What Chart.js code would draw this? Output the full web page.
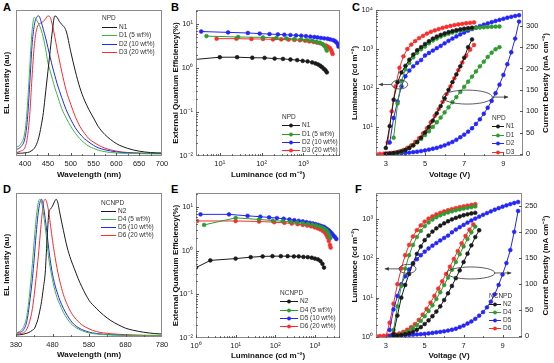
<!DOCTYPE html>
<html><head><meta charset="utf-8">
<script src="https://cdn.jsdelivr.net/npm/chart.js@4/dist/chart.umd.min.js"></script>
<style>
html,body{margin:0;padding:0;background:#fff;}
body{width:554px;height:363px;position:relative;overflow:hidden;font-family:"Liberation Sans",Arial,sans-serif;}
canvas{position:absolute;}
.lbl{position:absolute;font:bold 11px "Liberation Sans",Arial,sans-serif;color:#000;line-height:11px;}
</style></head><body>
<div class="lbl" style="left:3px;top:2px">A</div>
<div class="lbl" style="left:171px;top:2px">B</div>
<div class="lbl" style="left:352px;top:2px">C</div>
<div class="lbl" style="left:3px;top:184px">D</div>
<div class="lbl" style="left:171px;top:184px">E</div>
<div class="lbl" style="left:355px;top:184px">F</div>
<canvas id="cA" width="170" height="180" style="left:0;top:0"></canvas>
<canvas id="cB" width="182" height="180" style="left:168px;top:0"></canvas>
<canvas id="cC" width="206" height="180" style="left:348px;top:0"></canvas>
<canvas id="cD" width="170" height="180" style="left:0;top:180px"></canvas>
<canvas id="cE" width="182" height="181" style="left:168px;top:180px"></canvas>
<canvas id="cF" width="206" height="181" style="left:348px;top:180px"></canvas>
<script>
// ---------- DATA ----------
const hostA = 'NPD', hostD = 'NCNPD';
const namesA = ['N1','D1 (5 wt%)','D2 (10 wt%)','D3 (20 wt%)'];
const namesD = ['N2','D4 (5 wt%)','D5 (10 wt%)','D6 (20 wt%)'];
const namesC = ['N1','D1','D2','D3'];
const namesF = ['N2','D4','D5','D6'];

const ticksA = [400,450,500,550,600,650,700];
const ticksD = [380,480,580,680,780];
const ticksV = [3,5,7,9];
const ticksJC = [0,50,100,150,200,250,300];
const ticksJF = [0,50,100,150,200,250];

// Panel A: EL spectra (NPD host)
const wavelengthA = [380,390,400,405,410,415,420,425,430,435,440,445,450,455,460,465,470,475,480,490,500,510,520,530,540,550,560,575,600,625,650,675,700];
const elN1 = [.005,.005,.008,.01,.015,.025,.04,.07,.12,.2,.3,.45,.6,.75,.9,1.0,.99,.96,.94,.89,.74,.6,.48,.39,.32,.26,.2,.14,.075,.04,.02,.01,.007];
const elD1 = [.05,.07,.17,.35,.62,.88,.99,.97,.94,.9,.84,.76,.66,.6,.54,.48,.43,.38,.33,.26,.2,.15,.11,.08,.055,.04,.028,.016,.007,.004,.002,.001,.001];
const elD2 = [.03,.05,.12,.25,.5,.78,.93,.99,1.0,.96,.9,.84,.77,.7,.63,.57,.51,.46,.41,.32,.25,.19,.145,.11,.085,.062,.045,.03,.015,.008,.005,.003,.002];
const elD3 = [.01,.02,.05,.12,.28,.55,.78,.9,.94,.95,.96,.98,1.0,.99,.93,.85,.76,.68,.6,.46,.36,.27,.2,.15,.11,.085,.065,.042,.02,.01,.006,.004,.003];

// Panel D: EL spectra (NCNPD host)
const wavelengthD = [380,390,400,410,420,425,430,435,440,445,450,455,460,465,470,475,480,485,490,495,500,510,520,530,540,550,560,580,600,620,640,660,680,700,730,760,780];
const elN2 = [.005,.006,.01,.018,.03,.04,.05,.08,.12,.18,.25,.35,.46,.7,.9,.93,.95,.98,1.0,.97,.9,.77,.65,.56,.49,.42,.36,.26,.2,.15,.11,.08,.055,.04,.025,.015,.012];
const elD4 = [.02,.03,.06,.15,.38,.53,.7,.85,.96,1.0,.98,.9,.8,.68,.56,.48,.41,.35,.3,.26,.23,.17,.125,.09,.067,.05,.037,.02,.012,.008,.005,.003,.002,.001,.001,.001,.001];
const elD5 = [.02,.025,.04,.11,.3,.42,.57,.74,.88,.97,1.0,.95,.86,.75,.63,.53,.45,.39,.34,.3,.26,.2,.15,.11,.08,.06,.045,.026,.016,.01,.007,.005,.003,.002,.001,.001,.001];
const elD6 = [.01,.015,.02,.05,.13,.2,.3,.42,.55,.7,.85,.97,1.0,.97,.9,.8,.7,.61,.53,.46,.4,.3,.23,.175,.135,.105,.08,.05,.03,.02,.014,.01,.007,.005,.003,.002,.002];

// Panel B: EQE vs luminance (NPD)
const lumB_N1 = [2.2,10,26,60,118,205,325,490,710,960,1260,1620,1940,2240,2530,2800,3090,3380,3630];
const eqeB_N1 = [1.55,1.77,1.77,1.72,1.71,1.65,1.62,1.57,1.52,1.46,1.42,1.35,1.28,1.21,1.13,1.05,0.96,0.89,0.80];
const lumB_D1 = [4.8,27.5,108,225,390,610,890,1230,1620,2040,2450,2830,3160,3470,3630];
const eqeB_D1 = [5.35,5.1,5.0,4.85,4.75,4.6,4.5,4.35,4.2,4.0,3.8,3.55,3.2,2.8,2.5];
const lumB_D2 = [3.6,15.8,47,90,155,245,350,490,670,890,1150,1470,1820,2180,2630,3160,3800,4380,5100,5650,6170,6700,6900];
const eqeB_D2 = [6.8,6.5,6.3,6.1,5.95,5.85,5.75,5.65,5.55,5.45,5.35,5.2,5.1,5.0,4.85,4.75,4.65,4.5,4.35,4.15,3.85,3.5,3.1];
const lumB_D3 = [8.4,25,57,108,187,295,440,610,830,1100,1390,1770,2120,2530,2930,3390,3800,4270,4570,4800,5000];
const eqeB_D3 = [4.68,4.68,4.6,4.6,4.5,4.5,4.45,4.37,4.3,4.2,4.05,3.93,3.8,3.67,3.48,3.3,3.1,2.87,2.6,2.33,2.1];

// Panel E: EQE vs luminance (NCNPD)
const lumE_N2 = [1.0,2.3,10,24,48,85,138,205,295,390,513,661,832,1000,1200,1380,1550,1700];
const eqeE_N2 = [0.41,0.6,0.66,0.71,0.74,0.75,0.75,0.75,0.74,0.74,0.72,0.71,0.69,0.66,0.63,0.58,0.5,0.41];
const lumE_D4 = [1.6,10,39,86,154,240,355,495,660,860,1060,1290,1510,1740,1950,2140,2300,2450];
const eqeE_D4 = [3.9,5.66,5.2,4.9,4.75,4.57,4.43,4.27,4.12,3.98,3.78,3.58,3.39,3.16,2.9,2.6,2.25,1.95];
const lumE_D5 = [1.3,6.8,20,42,70,110,163,228,303,390,495,615,745,890,1040,1200,1370,1540,1700,1870,2030,2200,2350,2550,2750,2970,3220,3480];
const eqeE_D5 = [6.8,6.8,6.3,6.0,5.8,5.6,5.4,5.2,5.0,4.85,4.7,4.5,4.35,4.2,4.05,3.9,3.75,3.6,3.5,3.3,3.1,2.95,2.8,2.6,2.4,2.2,2.05,1.85];
const lumE_D6 = [1.06,10,39,94,170,260,370,495,640,800,980,1170,1370,1580,1780,1950,2100,2250,2400,2500];
const eqeE_D6 = [4.8,4.8,4.67,4.5,4.35,4.2,4.05,3.9,3.78,3.63,3.45,3.25,3.07,2.85,2.6,2.3,2.0,1.68,1.35,1.18];

// Panel C: luminance & current density vs voltage (NPD)
const vC_N1 = [3.0,3.2,3.4,3.6,3.8,4.0,4.2,4.4,4.6,4.8,5.0,5.2,5.4,5.6,5.8,6.0,6.2,6.4,6.6,6.8,7.0,7.2,7.4];
const lumC_N1 = [2.9,10.5,50,140,250,370,530,720,930,1120,1340,1580,1850,2080,2300,2500,2700,2880,3040,3200,3330,3440,3520];
const jC_N1 = [0.5,1,2,3.5,6,9,14,20,28,38,50,63,78,95,112,130,150,168,186,205,225,250,268];
const vC_D1 = [3.4,3.6,3.8,4.0,4.2,4.4,4.6,4.8,5.0,5.2,5.4,5.6,5.8,6.0,6.2,6.4,6.6,6.8,7.0,7.2,7.4,7.6,7.8,8.0,8.2,8.4,8.6,8.8];
const lumC_D1 = [5.3,40,150,300,440,610,800,980,1150,1400,1650,1850,2080,2280,2470,2650,2820,2980,3120,3250,3370,3460,3540,3610,3670,3720,3750,3770];
const jC_D1 = [1,2.5,5,9,14,20,27,35,44,53,63,74,85,97,109,121,133,145,157,169,181,193,205,216,227,237,245,250];
const vC_D2 = [3.2,3.4,3.6,3.8,4.0,4.2,4.4,4.6,4.8,5.0,5.2,5.4,5.6,5.8,6.0,6.2,6.4,6.6,6.8,7.0,7.2,7.4,7.6,7.8,8.0,8.2,8.4,8.6,8.8,9.0,9.2,9.4,9.6,9.8];
const lumC_D2 = [4,17,45,110,200,280,360,440,520,680,790,910,1050,1200,1400,1620,1850,2100,2370,2650,2950,3250,3560,3880,4200,4530,4870,5220,5580,5950,6330,6700,7050,7350];
const jC_D2 = [0,0.5,1,1.5,2,3,4,5,6.5,8,10,12,14,17,20,24,28,33,39,45,52,60,70,81,94,108,124,142,162,185,210,238,270,310];
const vC_D3L = [3.1,3.3,3.5,3.7,3.9,4.1,4.3,4.5,4.7,4.9,5.1,5.3,5.5,5.7,5.9,6.1,6.3,6.5,6.7,6.9,7.1,7.3,7.5];
const lumC_D3 = [4,25,110,330,650,1000,1300,1600,1900,2180,2480,2750,3000,3250,3480,3700,3900,4100,4270,4420,4570,4700,4800];
const vC_D3J = [2.5,2.7,2.9,3.1,3.3,3.5,3.7,3.9,4.1,4.3,4.5,4.7,4.9,5.1,5.3,5.5,5.7,5.9,6.1,6.3,6.5,6.7,6.9,7.1,7.3,7.5];
const jC_D3 = [0,0,0.5,1,2,3.5,6,9,14,20,28,37,48,60,74,89,105,122,140,158,177,196,214,230,244,255];

// Panel F: luminance & current density vs voltage (NCNPD)
const vF_N2 = [3.4,3.6,3.8,4.0,4.2,4.4,4.6,4.8,5.0,5.2,5.4,5.6,5.8,6.0,6.2,6.4,6.6,6.8,7.0,7.2,7.4,7.6];
const lumF_N2 = [1.2,3.5,10,21,40,75,130,200,290,380,480,580,680,780,880,980,1070,1160,1250,1320,1390,1440];
const vF_N2J = [3.4,3.6,3.8,4.0,4.2,4.4,4.6,4.8,5.0,5.2,5.4,5.6,5.8,6.0,6.2,6.4,6.6,6.8,7.0,7.2,7.4,7.6,7.8];
const jF_N2 = [0.5,1,2,3.5,5.5,8,12,17,23,30,38,47,57,69,82,96,111,126,142,158,174,190,203];
const vF_D4 = [3.4,3.6,3.8,4.0,4.2,4.4,4.6,4.8,5.0,5.2,5.4,5.6,5.8,6.0,6.2,6.4,6.6,6.8,7.0,7.2,7.4,7.6];
const lumF_D4 = [1.5,6,20,55,120,220,350,500,660,820,970,1110,1240,1360,1470,1570,1670,1760,1850,1930,2010,2090];
const jF_D4 = [0.5,1.5,3,6,10,15,21,29,38,48,59,71,84,98,112,127,142,157,172,186,199,210];
const vF_D5 = [3.2,3.4,3.6,3.8,4.0,4.2,4.4,4.6,4.8,5.0,5.2,5.4,5.6,5.8,6.0,6.2,6.4,6.6,6.8,7.0,7.2,7.4,7.6,7.8,8.0,8.2,8.4,8.6,8.8,9.0,9.2,9.4,9.6,9.8];
const lumF_D5 = [1.5,5,11,22,35,52,72,95,120,148,178,210,245,285,330,380,460,540,620,710,810,920,1030,1150,1280,1420,1570,1730,1890,2060,2230,2400,2560,2720];
const jF_D5 = [0,0.4,0.8,1.2,1.5,2,2.5,3,3.5,4.2,5,6,7,8,9,10.5,12,14,17,20,24,28,33,39,46,55,66,80,98,118,140,165,200,240];
const vF_D6L = [3.0,3.2,3.4,3.6,3.8,4.0,4.2,4.4,4.6,4.8,5.0,5.2,5.4,5.6,5.8,6.0,6.2,6.4,6.6,6.8,7.0,7.2,7.4,7.6];
const lumF_D6 = [1.0,2.3,7,22,55,120,220,360,520,690,860,1020,1170,1310,1440,1560,1680,1790,1900,2000,2100,2200,2290,2390];
const vF_D6J = [2.5,2.7,2.9,3.1,3.3,3.5,3.7,3.9,4.1,4.3,4.5,4.7,4.9,5.1,5.3,5.5,5.7,5.9,6.1,6.3,6.5,6.7,6.9,7.1,7.3,7.5];
const jF_D6 = [0,0,0.5,1,2,3,5,8,12,17,23,31,41,52,64,77,91,105,119,133,148,163,178,192,204,214];

// ---------- STYLE ----------
const BLACK = '#1a1a1a', GREEN = '#2f9a2f', GREEN_L = '#3cb83c', BLUE = '#2424ff', RED = '#ff2a2a';
const FONT = '"Liberation Sans", Arial, sans-serif';
Chart.defaults.font.family = FONT;
Chart.defaults.color = '#222';

const SUP = {'-':'\u207B','0':'\u2070','1':'\u00B9','2':'\u00B2','3':'\u00B3','4':'\u2074','5':'\u2075'};
function isDecade(v){ const l = Math.log10(v); return Math.abs(l - Math.round(l)) < 1e-6; }
function pow10Label(v){ const e = Math.round(Math.log10(v)); return '10' + String(e).split('').map(c => SUP[c]).join(''); }
function logTicks(scale){
  const t = [];
  const lo = Math.floor(Math.log10(scale.min)), hi = Math.ceil(Math.log10(scale.max));
  for (let e = lo; e <= hi; e++) for (let m = 1; m < 10; m++) {
    const v = m * Math.pow(10, e);
    if (v >= scale.min * 0.9999 && v <= scale.max * 1.0001) t.push({value: v});
  }
  scale.ticks = t;
}
function listTicks(major, minorStep){
  return scale => {
    const t = [];
    for (let v = major[0] - minorStep * Math.floor((major[0] - scale.min) / minorStep); v <= scale.max + 1e-9; v += minorStep) {
      if (v >= scale.min - 1e-9) t.push({value: Math.round(v * 1000) / 1000});
    }
    scale.ticks = t;
  };
}
function pts(xs, ys){ return xs.map((x, i) => ({x: x, y: ys[i]})); }
function curve(xs, ys, color){
  return {data: pts(xs, ys), borderColor: color, backgroundColor: color, borderWidth: 1, showLine: true,
    pointRadius: 0, pointHoverRadius: 0, cubicInterpolationMode: 'monotone'};
}
function marked(xs, ys, color, axis){
  return {data: pts(xs, ys), borderColor: color, backgroundColor: color, borderWidth: 1, showLine: true,
    pointRadius: 1.9, pointBorderWidth: 0.6, pointBackgroundColor: color, pointBorderColor: color, pointHoverRadius: 0, yAxisID: axis || 'y'};
}

// ---------- PLUGINS ----------
const frame = {id: 'frame', afterDraw(chart, args, opts){
  const ctx = chart.ctx, a = chart.chartArea;
  ctx.save();
  ctx.strokeStyle = '#8a8a8a'; ctx.lineWidth = 1;
  ctx.strokeRect(Math.round(a.left) + 0.5, Math.round(a.top) + 0.5, Math.round(a.right - a.left) - 1, Math.round(a.bottom - a.top) - 1);
  ctx.strokeStyle = '#555';
  for (const id in chart.scales) {
    if ((opts.skip || []).includes(id)) continue;
    const s = chart.scales[id];
    s.ticks.forEach(t => {
      const major = t.label !== '' && t.label != null;
      const len = major ? 3 : 1.8;
      const p = Math.round(s.getPixelForValue(t.value)) + 0.5;
      ctx.beginPath();
      if (s.isHorizontal()) {
        if (p < a.left || p > a.right) return;
        ctx.moveTo(p, a.bottom); ctx.lineTo(p, a.bottom - len);
      } else if (s.position === 'left') {
        if (p < a.top || p > a.bottom) return;
        ctx.moveTo(a.left, p); ctx.lineTo(a.left + len, p);
      } else {
        if (p < a.top || p > a.bottom) return;
        ctx.moveTo(a.right, p); ctx.lineTo(a.right - len, p);
      }
      ctx.stroke();
    });
  }
  if (opts.rightTitle) {
    const s = chart.scales.y2;
    ctx.fillStyle = '#111';
    ctx.font = 'bold 8px ' + FONT;
    ctx.textAlign = 'center'; ctx.textBaseline = 'middle';
    ctx.translate(s.right - opts.rightTitle.dx, (a.top + a.bottom) / 2);
    ctx.rotate(-Math.PI / 2);
    ctx.fillText(opts.rightTitle.text, 0, 0);
  }
  ctx.restore();
}};

const boxLegend = {id: 'boxLegend', afterDraw(chart, args, o){
  if (!o.names) return;
  const ctx = chart.ctx, a = chart.chartArea;
  const x = a.left + o.x, y = a.top + o.y;
  ctx.save();
  ctx.font = '6.5px ' + FONT; ctx.textBaseline = 'middle'; ctx.fillStyle = '#333';
  ctx.fillText(o.title, x, y);
  o.names.forEach((n, i) => {
    const yy = Math.round(y + (i + 1) * o.rowH) + 0.5;
    ctx.strokeStyle = o.colors[i]; ctx.lineWidth = 1;
    ctx.beginPath(); ctx.moveTo(x, yy); ctx.lineTo(x + o.lineLen, yy); ctx.stroke();
    if (o.marker) { ctx.fillStyle = o.colors[i]; ctx.beginPath(); ctx.arc(x + o.lineLen / 2, yy, 1.9, 0, Math.PI * 2); ctx.fill(); }
    ctx.fillStyle = '#333';
    ctx.fillText(n, x + o.lineLen + 2, yy);
  });
  ctx.restore();
}};

const ovals = {id: 'ovals', afterDatasetsDraw(chart, args, o){
  if (!o.list) return;
  const ctx = chart.ctx;
  ctx.save(); ctx.strokeStyle = '#333'; ctx.fillStyle = '#333'; ctx.lineWidth = 0.8;
  o.list.forEach(e => {
    const xs = chart.scales.x, ys = chart.scales[e.axis];
    const cx = xs.getPixelForValue(e.x), cy = ys.getPixelForValue(e.y);
    ctx.beginPath(); ctx.ellipse(cx, cy, e.rx, e.ry, 0, 0, Math.PI * 2); ctx.stroke();
    const tx = xs.getPixelForValue(e.to);
    const sx = tx < cx ? cx - e.rx : cx + e.rx;
    ctx.beginPath(); ctx.moveTo(sx, cy); ctx.lineTo(tx, cy); ctx.stroke();
    const d = tx < cx ? 1 : -1;
    ctx.beginPath(); ctx.moveTo(tx, cy); ctx.lineTo(tx + d * 4, cy - 1.8); ctx.lineTo(tx + d * 4, cy + 1.8); ctx.closePath(); ctx.fill();
  });
  ctx.restore();
}};

// ---------- AXES ----------
const tickFont = {size: 7.5};
const titleFont = {size: 8, weight: 'bold'};
function xLinear(min, max, major, minorStep, title, h){
  return {type: 'linear', position: 'bottom', min: min, max: max,
    afterBuildTicks: listTicks(major, minorStep),
    ticks: {callback: v => major.includes(v) ? String(v) : '', autoSkip: false, maxRotation: 0, padding: 3, font: tickFont, color: '#222'},
    grid: {display: false, drawTicks: false}, border: {display: false},
    title: {display: true, text: title, font: titleFont, color: '#111', padding: 0},
    afterFit: s => { s.height = h; s.paddingLeft = 0; s.paddingRight = 0; }};
}
function xLog(min, max, title, h){
  return {type: 'logarithmic', position: 'bottom', min: min, max: max, afterBuildTicks: logTicks,
    ticks: {callback: v => isDecade(v) ? pow10Label(v) : '', autoSkip: false, maxRotation: 0, padding: 3, font: tickFont, color: '#222'},
    grid: {display: false, drawTicks: false}, border: {display: false},
    title: {display: true, text: title, font: titleFont, color: '#111', padding: 0},
    afterFit: s => { s.height = h; s.paddingLeft = 0; s.paddingRight = 0; }};
}
function yLog(min, max, title, w, tpad){
  return {type: 'logarithmic', position: 'left', min: min, max: max, afterBuildTicks: logTicks,
    ticks: {callback: v => isDecade(v) ? pow10Label(v) : '', autoSkip: false, padding: 3, font: tickFont, color: '#222'},
    grid: {display: false, drawTicks: false}, border: {display: false},
    title: {display: true, text: title, font: titleFont, color: '#111', padding: {top: tpad, bottom: 0}},
    afterFit: s => { s.width = w; s.paddingTop = 0; s.paddingBottom = 0; }};
}
function yRight(min, max, major, w){
  return {type: 'linear', position: 'right', min: min, max: max,
    afterBuildTicks: s => { s.ticks = major.map(v => ({value: v})); },
    ticks: {callback: v => String(v), autoSkip: false, padding: 3, font: tickFont, color: '#222'},
    grid: {display: false, drawTicks: false}, border: {display: false},
    title: {display: false},
    afterFit: s => { s.width = w; s.paddingTop = 0; s.paddingBottom = 0; }};
}
function ySpec(min, max, w){
  return {type: 'linear', min: min, max: max, ticks: {display: false}, grid: {display: false, drawTicks: false}, border: {display: false},
    title: {display: true, text: 'EL Intensity (au)', font: titleFont, color: '#111', padding: {top: 2, bottom: 0}},
    afterFit: s => { s.width = w; s.paddingTop = 0; s.paddingBottom = 0; }};
}
const baseOpts = {responsive: false, animation: false, devicePixelRatio: 1, events: []};
const PLUGINS = [frame, boxLegend, ovals];

// ---------- A ----------
new Chart(document.getElementById('cA'), {type: 'scatter', plugins: PLUGINS,
  data: {datasets: [curve(wavelengthA, elN1, BLACK), curve(wavelengthA, elD1, GREEN_L), curve(wavelengthA, elD2, BLUE), curve(wavelengthA, elD3, RED)]},
  options: Object.assign({}, baseOpts, {
    layout: {padding: {left: 0, top: 10, right: 8, bottom: 0}},
    plugins: {legend: {display: false}, tooltip: {enabled: false},
      frame: {skip: ['y']},
      boxLegend: {title: hostA, names: namesA, colors: [BLACK, GREEN_L, BLUE, RED], x: 86, y: 8, rowH: 8.6, lineLen: 15, marker: false}},
    scales: {x: xLinear(380, 700, ticksA, 25, 'Wavelength (nm)', 24), y: ySpec(-0.015, 1.043, 16)}
  })});

// ---------- D ----------
new Chart(document.getElementById('cD'), {type: 'scatter', plugins: PLUGINS,
  data: {datasets: [curve(wavelengthD, elN2, BLACK), curve(wavelengthD, elD4, GREEN_L), curve(wavelengthD, elD5, BLUE), curve(wavelengthD, elD6, RED)]},
  options: Object.assign({}, baseOpts, {
    layout: {padding: {left: 0, top: 13, right: 8, bottom: 0}},
    plugins: {legend: {display: false}, tooltip: {enabled: false},
      frame: {skip: ['y']},
      boxLegend: {title: hostD, names: namesD, colors: [BLACK, GREEN_L, BLUE, RED], x: 85, y: 10, rowH: 8.1, lineLen: 15, marker: false}},
    scales: {x: xLinear(380, 780, ticksD, 50, 'Wavelength (nm)', 23), y: ySpec(-0.01, 1.046, 16)}
  })});

// ---------- B ----------
new Chart(document.getElementById('cB'), {type: 'scatter', plugins: PLUGINS,
  data: {datasets: [marked(lumB_N1, eqeB_N1, BLACK), marked(lumB_D1, eqeB_D1, GREEN), marked(lumB_D2, eqeB_D2, BLUE), marked(lumB_D3, eqeB_D3, RED)]},
  options: Object.assign({}, baseOpts, {
    layout: {padding: {left: 0, top: 10, right: 10, bottom: 0}},
    plugins: {legend: {display: false}, tooltip: {enabled: false}, frame: {},
      boxLegend: {title: hostA, names: namesA, colors: [BLACK, GREEN, BLUE, RED], x: 86, y: 107, rowH: 8.3, lineLen: 18, marker: true}},
    scales: {x: xLog(2.7, 7500, 'Luminance (cd m\u207B\u00B2)', 24), y: yLog(0.01, 21, 'External Quantum Efficiency(%)', 28, 3)}
  })});

// ---------- E ----------
new Chart(document.getElementById('cE'), {type: 'scatter', plugins: PLUGINS,
  data: {datasets: [marked(lumE_N2, eqeE_N2, BLACK), marked(lumE_D4, eqeE_D4, GREEN), marked(lumE_D5, eqeE_D5, BLUE), marked(lumE_D6, eqeE_D6, RED)]},
  options: Object.assign({}, baseOpts, {
    layout: {padding: {left: 0, top: 13, right: 10, bottom: 0}},
    plugins: {legend: {display: false}, tooltip: {enabled: false}, frame: {},
      boxLegend: {title: hostD, names: namesD, colors: [BLACK, GREEN, BLUE, RED], x: 84, y: 100, rowH: 8.3, lineLen: 18, marker: true}},
    scales: {x: xLog(1, 4300, 'Luminance (cd m\u207B\u00B2)', 23), y: yLog(0.01, 21, 'External Quantum Efficiency(%)', 28, 3)}
  })});

// ---------- C ----------
new Chart(document.getElementById('cC'), {type: 'scatter', plugins: PLUGINS,
  data: {datasets: [
    marked(vC_N1, lumC_N1, BLACK, 'y'), marked(vC_D1, lumC_D1, GREEN, 'y'), marked(vC_D2, lumC_D2, BLUE, 'y'), marked(vC_D3L, lumC_D3, RED, 'y'),
    marked(vC_N1, jC_N1, BLACK, 'y2'), marked(vC_D1, jC_D1, GREEN, 'y2'), marked(vC_D2, jC_D2, BLUE, 'y2'), marked(vC_D3J, jC_D3, RED, 'y2')]},
  options: Object.assign({}, baseOpts, {
    layout: {padding: {left: 0, top: 10, right: 0, bottom: 0}},
    plugins: {legend: {display: false}, tooltip: {enabled: false},
      frame: {rightTitle: {text: 'Current Density (mA cm\u207B\u00B2)', dx: 8}},
      boxLegend: {title: hostA, names: namesC, colors: [BLACK, GREEN, BLUE, RED], x: 116, y: 108, rowH: 8.4, lineLen: 12, marker: true},
      ovals: {list: [{x: 3.71, y: 123, axis: 'y', rx: 8, ry: 4.5, to: 2.64}, {x: 7.16, y: 133, axis: 'y2', rx: 25, ry: 7, to: 9.24}]}},
    scales: {x: xLinear(2.5, 10, ticksV, 1, 'Voltage (V)', 24),
      y: yLog(1.8, 10000, 'Luminance (cd m\u207B\u00B2)', 28, 2),
      y2: yRight(-5, 337, ticksJC, 31)}
  })});

// ---------- F ----------
new Chart(document.getElementById('cF'), {type: 'scatter', plugins: PLUGINS,
  data: {datasets: [
    marked(vF_N2, lumF_N2, BLACK, 'y'), marked(vF_D4, lumF_D4, GREEN, 'y'), marked(vF_D5, lumF_D5, BLUE, 'y'), marked(vF_D6L, lumF_D6, RED, 'y'),
    marked(vF_N2J, jF_N2, BLACK, 'y2'), marked(vF_D4, jF_D4, GREEN, 'y2'), marked(vF_D5, jF_D5, BLUE, 'y2'), marked(vF_D6J, jF_D6, RED, 'y2')]},
  options: Object.assign({}, baseOpts, {
    layout: {padding: {left: 0, top: 13, right: 0, bottom: 0}},
    plugins: {legend: {display: false}, tooltip: {enabled: false},
      frame: {rightTitle: {text: 'Current Density (mA cm\u207B\u00B2)', dx: 8}},
      boxLegend: {title: hostD, names: namesF, colors: [BLACK, GREEN, BLUE, RED], x: 113, y: 103, rowH: 8, lineLen: 12, marker: true},
      ovals: {list: [{x: 4.12, y: 54, axis: 'y', rx: 8.5, ry: 4.5, to: 2.95}, {x: 7.37, y: 121, axis: 'y2', rx: 24, ry: 6, to: 9.45}]}},
    scales: {x: xLinear(2.5, 10, ticksV, 1, 'Voltage (V)', 23),
      y: yLog(0.94, 4600, 'Luminance (cd m\u207B\u00B2)', 28, 2),
      y2: yRight(-3.8, 274.5, ticksJF, 32)}
  })});
</script>
</body></html>
